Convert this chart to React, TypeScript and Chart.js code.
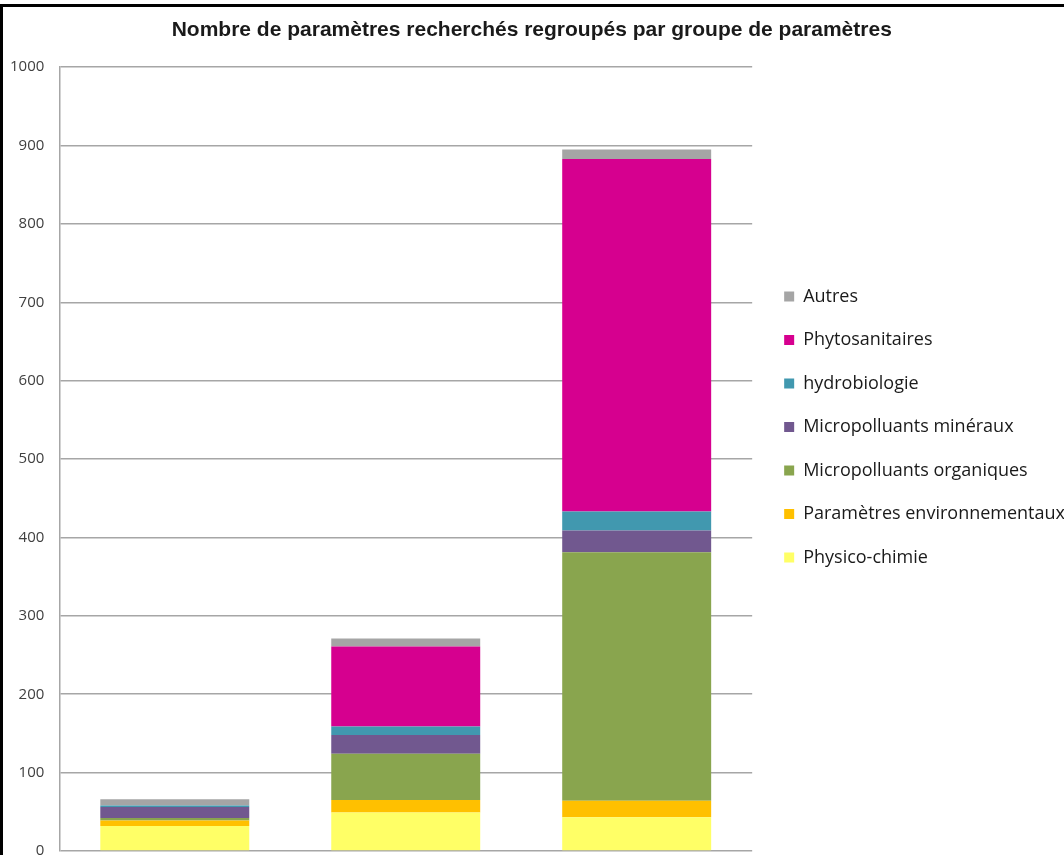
import React, { useEffect, useRef } from "react";
import { Chart, registerables } from "chart.js";

Chart.register(...registerables);

const TITLE = "Nombre de paramètres recherchés regroupés par groupe de paramètres";
const categories = ["Groupe 1", "Groupe 2", "Groupe 3"];

const physicoChimie = [32, 49, 43];
const parametresEnv = [7, 16, 21];
const microOrganiques = [3, 59, 317];
const microMineraux = [14, 24, 28];
const hydrobiologie = [2, 11, 24];
const phytosanitaires = [0, 102, 450];
const autres = [8, 10, 12];

const yTicks = [0, 100, 200, 300, 400, 500, 600, 700, 800, 900, 1000];

const FONT = "'Liberation Sans', Arial, sans-serif";
const LEGEND_FONT = "'Open Sans', 'Liberation Sans', sans-serif";

const legendNudge = {
  id: "legendNudge",
  afterLayout(chart: any) {
    const L = chart.legend;
    if (!L || !L.columnSizes) return;
    const pad = L.options.labels.padding;
    const colH = L.columnSizes[0].height;
    const start = (L.top + pad + L.bottom - colH) / 2;
    const dy = 287.5 - start;
    L.top += dy;
    L.bottom += dy;
    L.left += 6.5;
    L.right += 6.5;
  },
};

export default function App() {
  const ref = useRef<HTMLCanvasElement | null>(null);

  useEffect(() => {
    if (!ref.current) return;
    const chart = new Chart(ref.current, {
      type: "bar",
      data: {
        labels: categories,
        datasets: [
          { label: "Physico-chimie", data: physicoChimie, backgroundColor: "#FFFF66" },
          { label: "Paramètres environnementaux", data: parametresEnv, backgroundColor: "#FFC000" },
          { label: "Micropolluants organiques", data: microOrganiques, backgroundColor: "#89A54E" },
          { label: "Micropolluants minéraux", data: microMineraux, backgroundColor: "#71588F" },
          { label: "hydrobiologie", data: hydrobiologie, backgroundColor: "#4198AF" },
          { label: "Phytosanitaires", data: phytosanitaires, backgroundColor: "#D6008F" },
          { label: "Autres", data: autres, backgroundColor: "#A5A5A5" },
        ],
      },
      plugins: [legendNudge],
      options: {
        responsive: false,
        animation: false,
        devicePixelRatio: 1,
        datasets: { bar: { categoryPercentage: 1, barPercentage: 0.645 } },
        layout: { padding: { top: 0, left: -5, right: -4.5, bottom: 0 } },
        plugins: {
          title: {
            display: true,
            text: TITLE,
            color: "#1a1a1a",
            font: { family: FONT, size: 21, weight: "bold" },
            padding: { top: 18, bottom: 24 },
          },
          legend: {
            position: "right",
            reverse: true,
            maxWidth: 420,
            labels: {
              boxWidth: 10,
              boxHeight: 10,
              padding: 25.5,
              color: "#1a1a1a",
              font: { family: LEGEND_FONT, size: 18 },
            },
          },
          tooltip: { enabled: false },
        },
        scales: {
          x: {
            stacked: true,
            display: true,
            ticks: { display: false, padding: 0 },
            grid: { display: false, drawTicks: false },
            border: { display: false },
            afterFit: (a: any) => {
              a.paddingLeft = 0;
              a.paddingRight = 0;
            },
          },
          y: {
            stacked: true,
            min: 0,
            max: 1000,
            afterBuildTicks: (axis: any) => {
              axis.ticks = yTicks.map((v) => ({ value: v }));
            },
            ticks: {
              color: "#404040",
              padding: 15,
              font: { family: LEGEND_FONT, size: 15 },
              callback: (v: any) => String(v),
            },
            grid: { color: "#a6a6a6", lineWidth: 1.5, drawTicks: false },
            border: { display: true, color: "#a6a6a6", width: 1.5 },
          },
        },
      },
    });
    return () => chart.destroy();
  }, []);

  return (
    <div
      style={{
        position: "fixed",
        left: 0,
        top: 0,
        width: 1064,
        height: 855,
        overflow: "hidden",
        background: "#fff",
      }}
    >
      <canvas ref={ref} width={1064} height={875} style={{ width: 1064, height: 875, display: "block" }} />
      <div style={{ position: "absolute", left: 0, top: 4, width: 1064, height: 3, background: "#000" }} />
      <div style={{ position: "absolute", left: 0, top: 4, width: 3, height: 851, background: "#000" }} />
    </div>
  );
}
